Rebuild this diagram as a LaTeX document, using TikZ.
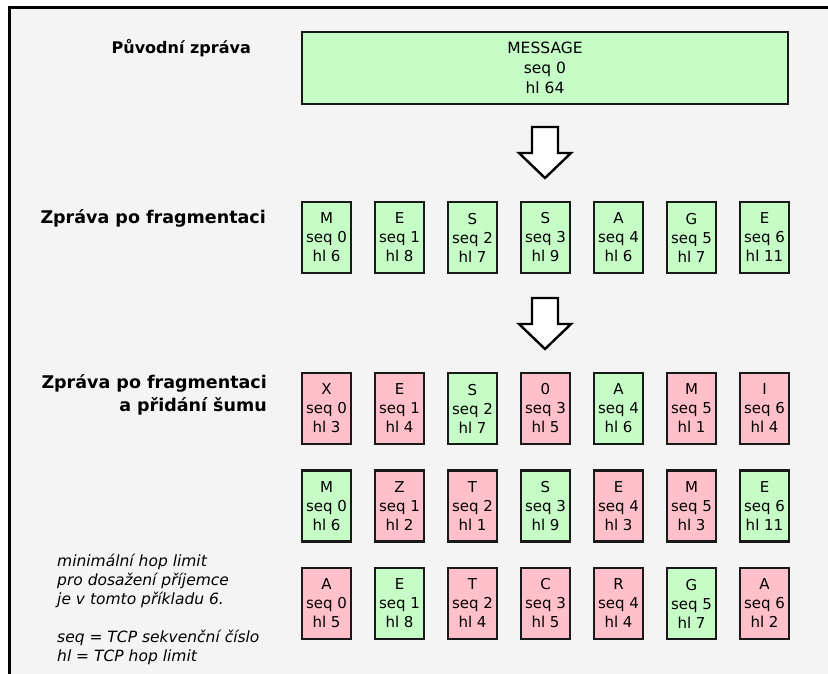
\documentclass[tikz,border=0pt]{standalone}
\usepackage{fontspec}
\setmainfont{DejaVu Sans}
\usepackage{tikz}
\usetikzlibrary{positioning}

\definecolor{fragok}{HTML}{C6FCC6}
\definecolor{fragbad}{HTML}{FFC0CB}
\definecolor{panel}{HTML}{F4F4F4}

\tikzset{
  frag/.style={draw=black!90, line width=2.4pt, minimum width=49pt, minimum height=71pt,
    inner sep=0pt, align=center, font=\fontsize{15}{19}\selectfont},
  ok/.style={frag, fill=fragok},
  bad/.style={frag, fill=fragbad},
  caption/.style={font=\fontsize{17.5}{23}\selectfont\bfseries, align=right, anchor=east, inner sep=0pt},
  hollow/.style={draw=black, line width=2.4pt, fill=white, line join=miter},
}

\begin{document}
\begin{tikzpicture}[x=1pt, y=-1pt]
	\useasboundingbox (0,0) rectangle (828,673);
	\clip (0,0) rectangle (828,673);
	\draw[fill=panel, line width=3pt] (9.5,7.5) rectangle (840,690);

	% original message
	\node[ok, minimum width=486pt, minimum height=72pt, font=\fontsize{15.5}{20}\selectfont] (msg) at (545,68) {MESSAGE\\seq 0\\hl 64};
	\node[caption, font=\fontsize{16}{23}\selectfont\bfseries] (msgcap) at (251,48) {Původní zpráva};

	% fragments
	\foreach \ch/\hl/\st [count=\i from 0] in {M/6/ok, E/8/ok, S/7/ok, S/9/ok, A/6/ok, G/7/ok, E/11/ok}
		\node[\st] (frag\i) at (326.5+73*\i, 237.5) {\ch\\seq \i\\hl \hl};
	\node[caption] (fragcap) at (266,218) {Zpráva po fragmentaci};

	% fragments with noise
	\foreach \ch/\hl/\st [count=\i from 0] in {X/3/bad, E/4/bad, S/7/ok, 0/5/bad, A/6/ok, M/1/bad, I/4/bad}
		\node[\st] (noiseA\i) at (326.5+73*\i, 408.5) {\ch\\seq \i\\hl \hl};
	\foreach \ch/\hl/\st [count=\i from 0] in {M/6/ok, Z/2/bad, T/1/bad, S/9/ok, E/3/bad, M/3/bad, E/11/ok}
		\node[\st] (noiseB\i) at (326.5+73*\i, 506) {\ch\\seq \i\\hl \hl};
	\foreach \ch/\hl/\st [count=\i from 0] in {A/5/bad, E/8/ok, T/4/bad, C/5/bad, R/4/bad, G/7/ok, A/2/bad}
		\node[\st] (noiseC\i) at (326.5+73*\i, 603.5) {\ch\\seq \i\\hl \hl};
	\node[caption] (noisecap) at (267,394.5) {Zpráva po fragmentaci\\a přidání šumu};

	\node[anchor=north west, align=left, inner sep=0pt, font=\fontsize{15.5}{19}\selectfont\itshape] (legend) at (57,554)
		{minimální hop limit\\pro dosažení příjemce\\je v tomto příkladu 6.\\[19pt]seq = TCP sekvenční číslo\\hl = TCP hop limit};

	% block arrows between stages
	\coordinate (down1) at (545,127);
	\coordinate (down2) at (545,298);
	\foreach \c in {down1, down2}
		\draw[hollow] (\c) ++(-13,0) -- ++(26,0) -- ++(0,26) -- ++(13,0) -- ++(-26,25) -- ++(-26,-25) -- ++(13,0) -- cycle;
\end{tikzpicture}
\end{document}
